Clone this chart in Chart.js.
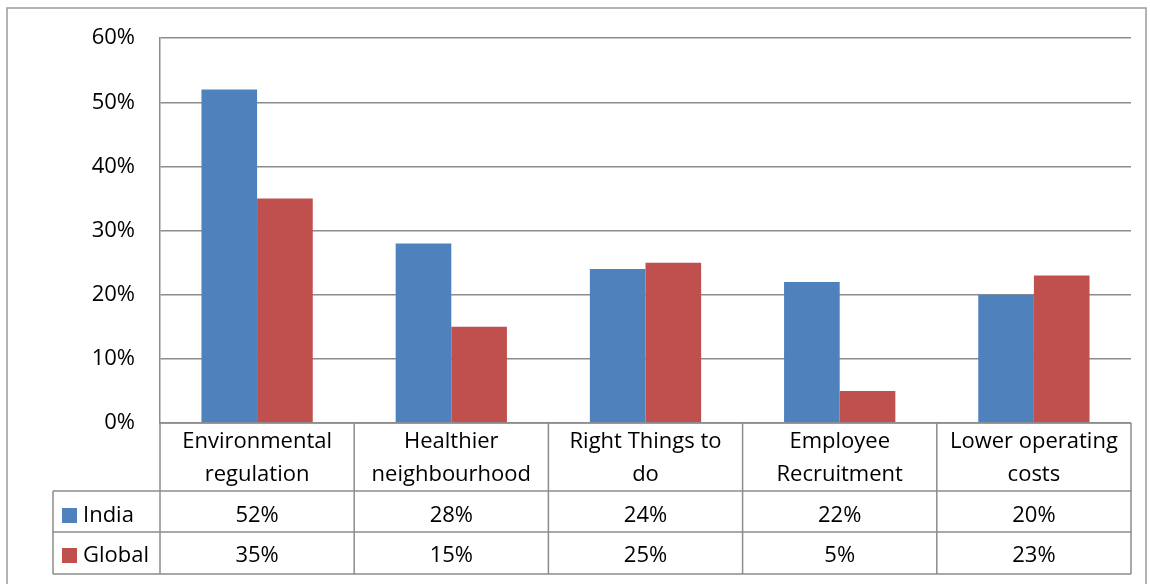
<!DOCTYPE html>
<html>
<head>
<meta charset="utf-8">
<script src="https://cdn.jsdelivr.net/npm/chart.js@4.4.0/dist/chart.umd.min.js"></script>
<style>
  html, body { margin: 0; padding: 0; background: #fff; }
  #wrap { width: 1150px; height: 584px; }
</style>
</head>
<body>
<div id="wrap"><canvas id="chart" width="1150" height="584"></canvas></div>
<script>
// categories (two-line labels as shown in the data table)
const categories = [
    ['Environmental', 'regulation'],
    ['Healthier', 'neighbourhood'],
    ['Right Things to', 'do'],
    ['Employee', 'Recruitment'],
    ['Lower operating', 'costs']
];
const indiaValues = [52, 28, 24, 22, 20];
const globalValues = [35, 15, 25, 5, 23];
const seriesNames = ['India', 'Global'];
const seriesColors = ['#4F81BD', '#C0504D'];

const FONT = '"Open Sans", "Liberation Sans", sans-serif';
const LINE = '#8c8c8c';

// draws the outer frame and the Excel-style data table under the plot
const tablePlugin = {
    id: 'dataTable',
    afterDraw(chart) {
        const ctx = chart.ctx;
        const area = chart.chartArea;
        const x = chart.scales.x;
        const half = (area.right - area.left) / categories.length / 2;

        const headTop = area.bottom;
        const row1 = 491;
        const row2 = 532;
        const bottom = 574;
        const legLeft = 53;

        ctx.save();
        // outer frame
        ctx.strokeStyle = '#9a9a9a';
        ctx.lineWidth = 1.5;
        ctx.strokeRect(7, 8, 1139, 600);

        ctx.strokeStyle = LINE;
        ctx.lineWidth = 1.5;
        ctx.beginPath();
        ctx.moveTo(area.left, headTop); ctx.lineTo(area.right, headTop);
        ctx.moveTo(legLeft, row1); ctx.lineTo(area.right, row1);
        ctx.moveTo(legLeft, row2); ctx.lineTo(area.right, row2);
        ctx.moveTo(legLeft, bottom); ctx.lineTo(area.right, bottom);
        ctx.moveTo(legLeft, row1); ctx.lineTo(legLeft, bottom);
        ctx.moveTo(area.left, headTop); ctx.lineTo(area.left, bottom);
        categories.forEach((c, i) => {
            const r = x.getPixelForValue(i) + half;
            ctx.moveTo(r, headTop); ctx.lineTo(r, bottom);
        });
        ctx.stroke();

        ctx.fillStyle = '#000';
        ctx.font = '22px ' + FONT;
        ctx.textAlign = 'center';
        ctx.textBaseline = 'middle';
        categories.forEach((c, i) => {
            const cx = x.getPixelForValue(i);
            ctx.fillText(c[0], cx, 442);
            ctx.fillText(c[1], cx, 475);
            ctx.fillText(indiaValues[i] + '%', cx, 516);
            ctx.fillText(globalValues[i] + '%', cx, 556);
        });

        // legend keys
        [516, 556].forEach((cy, k) => {
            ctx.fillStyle = seriesColors[k];
            ctx.fillRect(62, cy - 8, 15, 15);
            ctx.fillStyle = '#000';
            ctx.textAlign = 'left';
            ctx.fillText(seriesNames[k], 83, cy);
        });
        ctx.restore();
    }
};

new Chart(document.getElementById('chart'), {
    type: 'bar',
    data: {
        labels: categories.map(c => c.join(' ')),
        datasets: [
            { label: seriesNames[0], data: indiaValues, backgroundColor: seriesColors[0] },
            { label: seriesNames[1], data: globalValues, backgroundColor: seriesColors[1] }
        ]
    },
    options: {
        responsive: false,
        animation: false,
        layout: { padding: { left: 0, top: 38, right: 19, bottom: 161 } },
        plugins: {
            legend: { display: false },
            tooltip: { enabled: false }
        },
        datasets: {
            bar: { categoryPercentage: 0.573, barPercentage: 1.0 }
        },
        scales: {
            x: { display: false },
            y: {
                min: 0,
                max: 60,
                afterFit(scale) { scale.width = 160; },
                ticks: {
                    stepSize: 10,
                    padding: 25,
                    color: '#000',
                    font: { family: FONT, size: 22 },
                    callback: v => v + '%'
                },
                grid: { color: LINE, lineWidth: 1.5, drawTicks: false },
                border: { color: LINE, width: 1.5 }
            }
        }
    },
    plugins: [tablePlugin]
});
</script>
</body>
</html>
